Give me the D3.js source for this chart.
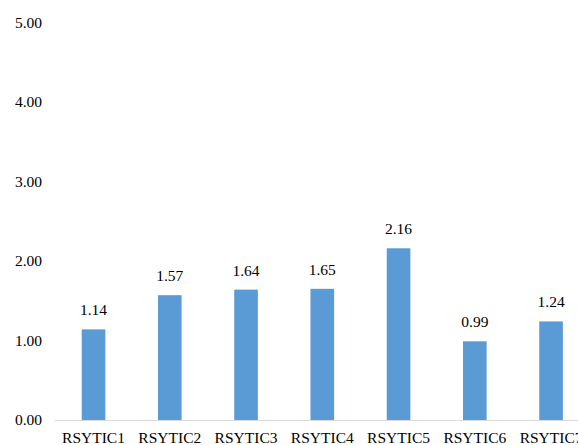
<!DOCTYPE html>
<html>
<head>
<meta charset="utf-8">
<script src="https://cdn.jsdelivr.net/npm/d3@7"></script>
<style>
  body { margin: 0; background: white; }
  svg text { font-family: "Liberation Serif", serif; }
</style>
</head>
<body>
<div id="chart-area"></div>
<script>
var categories = ["RSYTIC1", "RSYTIC2", "RSYTIC3", "RSYTIC4", "RSYTIC5", "RSYTIC6", "RSYTIC7"];
var values = [1.14, 1.57, 1.64, 1.65, 2.16, 0.99, 1.24];
var yTicks = [0, 1, 2, 3, 4, 5];

var width = 578, height = 445;
var fontSize = "15.5px";

var svg = d3.select("#chart-area").append("svg")
  .attr("width", width)
  .attr("height", height)
  .style("display", "block");

// plot runs past the right edge, like the original
var x = d3.scaleBand()
  .domain(categories)
  .range([55.4, 589.2])
  .paddingInner(0.69)
  .paddingOuter(0.345);

var y = d3.scaleLinear()
  .domain([0, 5])
  .range([420, 22.5]);

// y tick labels
svg.append("g").selectAll("text")
  .data(yTicks)
  .enter()
  .append("text")
  .attr("x", 42)
  .attr("y", (d) => y(d))
  .attr("dy", "0.35em")
  .attr("text-anchor", "end")
  .style("font-size", fontSize)
  .style("fill", "#000")
  .text((d) => d.toFixed(2));

// bars
svg.append("g").selectAll("rect")
  .data(values)
  .enter()
  .append("rect")
  .attr("x", (d, i) => x(categories[i]))
  .attr("y", (d) => y(d))
  .attr("width", x.bandwidth())
  .attr("height", (d) => y(0) - y(d))
  .attr("fill", "#5b9bd5");

// baseline
svg.append("line")
  .attr("x1", 55)
  .attr("x2", width)
  .attr("y1", y(0) + 0.5)
  .attr("y2", y(0) + 0.5)
  .style("stroke", "#d9d9d9")
  .style("stroke-width", 1);

// value labels
svg.append("g").selectAll("text")
  .data(values)
  .enter()
  .append("text")
  .attr("x", (d, i) => x(categories[i]) + x.bandwidth() / 2)
  .attr("y", (d) => y(d) - 14)
  .attr("text-anchor", "middle")
  .style("font-size", fontSize)
  .style("fill", "#000")
  .text((d) => d.toFixed(2));

// category labels
svg.append("g").selectAll("text")
  .data(categories)
  .enter()
  .append("text")
  .attr("x", (d) => x(d) + x.bandwidth() / 2)
  .attr("y", 443)
  .attr("text-anchor", "middle")
  .style("font-size", fontSize)
  .style("fill", "#000")
  .text((d) => d);
</script>
</body>
</html>
